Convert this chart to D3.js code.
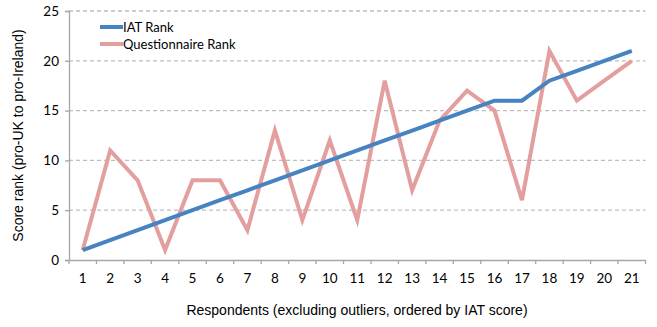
<!DOCTYPE html>
<html><head><meta charset="utf-8">
<script src="https://cdn.jsdelivr.net/npm/d3@7"></script>
<style>body{margin:0;background:#fff}svg{display:block}</style>
</head><body>
<svg id="c" width="657" height="327"></svg>
<script>
const categories = d3.range(1, 22).map(String);
const iatRank = [1,2,3,4,5,6,7,8,9,10,11,12,13,14,15,16,16,18,19,20,21];
const questionnaireRank = [1,11,8,1,8,8,3,13,4,12,4,18,7,14,17,15,6,21,16,18,20];
const yTicks = [0,5,10,15,20,25];
const seriesNames = ["IAT Rank","Questionnaire Rank"];
const colors = ["#4683C0","#E39E9E"];

const svg = d3.select("#c");
const L = 69, R = 645.5, T = 11, B = 260;
const x = d3.scaleBand().domain(categories).range([L, R]);
const y = d3.scaleLinear().domain([0,25]).range([B, T]);
const labelFont = "Lato, 'Open Sans', sans-serif";

// gridlines
svg.append("g").selectAll("line").data(yTicks.filter(d=>d>0)).join("line")
  .attr("x1", L).attr("x2", R).attr("y1", d=>y(d)).attr("y2", d=>y(d))
  .attr("stroke", "#bdbdbd").attr("stroke-width", 1.3).attr("stroke-dasharray", "4,3");

// y axis
const ya = svg.append("g").attr("transform", `translate(${L},0)`)
  .call(d3.axisLeft(y).tickValues(yTicks).tickSize(4).tickPadding(6));
ya.select(".domain").attr("stroke", "#a6a6a6").attr("stroke-width", 1.3);
ya.selectAll(".tick line").attr("stroke", "#a6a6a6").attr("stroke-width", 1.3);
ya.selectAll("text").attr("font-family", labelFont).attr("font-size", 13.5).attr("fill", "#000");

// x axis
const xa = svg.append("g").attr("transform", `translate(0,${B})`)
  .call(d3.axisBottom(x).tickSize(0).tickPadding(13));
xa.select(".domain").attr("stroke", "#a6a6a6").attr("stroke-width", 1.3);
xa.selectAll("text").attr("font-family", labelFont).attr("font-size", 13.5).attr("fill", "#000");
// ticks between categories
const edges = categories.map(c => x(c)).concat([x(categories[categories.length-1]) + x.bandwidth()]);
svg.append("g").selectAll("line").data(edges).join("line")
  .attr("x1", d=>d).attr("x2", d=>d).attr("y1", B).attr("y2", B+4)
  .attr("stroke", "#a6a6a6").attr("stroke-width", 1.3);

// lines
const line = d3.line().x((d,i)=>x(categories[i]) + x.bandwidth()/2).y(d=>y(d));
[iatRank, questionnaireRank].forEach((s, k) => {});
svg.append("path").datum(questionnaireRank).attr("d", line)
  .attr("fill","none").attr("stroke", colors[1]).attr("stroke-width", 4).attr("stroke-linejoin","miter");
svg.append("path").datum(iatRank).attr("d", line)
  .attr("fill","none").attr("stroke", colors[0]).attr("stroke-width", 4).attr("stroke-linejoin","miter");

// legend
const lg = svg.append("g");
seriesNames.forEach((n, i) => {
  const yy = 27 + i*17;
  lg.append("line").attr("x1", 100).attr("x2", 123).attr("y1", yy).attr("y2", yy)
    .attr("stroke", colors[i]).attr("stroke-width", 4);
  lg.append("text").attr("x", 123).attr("y", yy).attr("dy", "0.35em")
    .attr("font-family", labelFont).attr("font-size", 13).attr("fill", "#000").text(n);
});

// axis titles
svg.append("text").attr("x", 357).attr("y", 315).attr("text-anchor", "middle")
  .attr("font-family", "'Liberation Sans', Arial, sans-serif").attr("font-size", 14).attr("fill", "#000")
  .text("Respondents (excluding outliers, ordered by IAT score)");
svg.append("text").attr("transform", `translate(23,${(T+B)/2}) rotate(-90)`).attr("text-anchor", "middle")
  .attr("font-family", "'Liberation Sans', Arial, sans-serif").attr("font-size", 14).attr("fill", "#000")
  .text("Score rank (pro-UK to pro-Ireland)");
</script>
</body></html>
